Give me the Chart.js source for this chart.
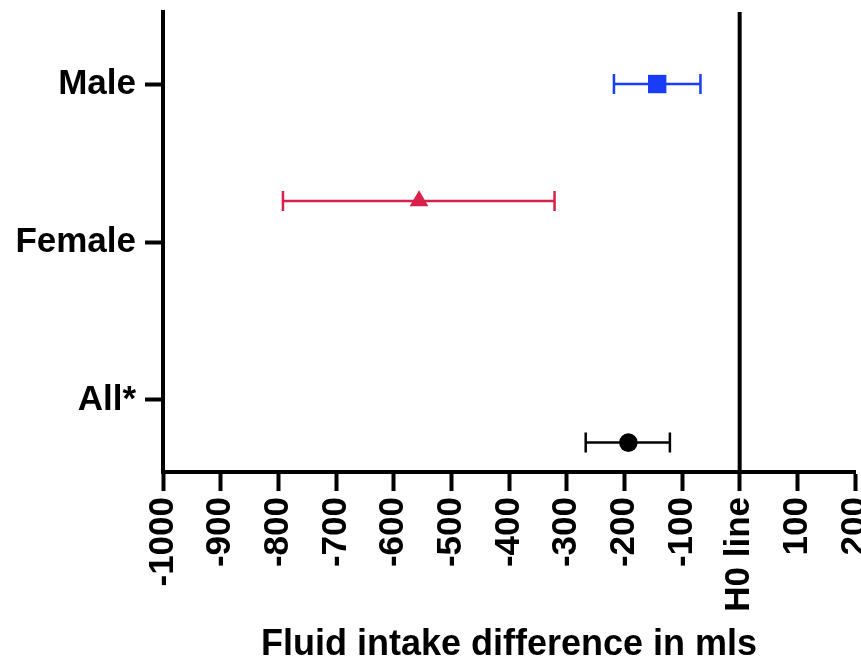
<!DOCTYPE html>
<html>
<head>
<meta charset="utf-8">
<script src="https://cdn.jsdelivr.net/npm/chart.js@4"></script>
<style>
  html,body{margin:0;padding:0;background:#fff;}
  #wrap{width:861px;height:667px;}
</style>
</head>
<body>
<div id="wrap"><canvas id="chart" width="861" height="667"></canvas></div>
<script>
// Data
const groupLabels=['All*','Female','Male'];
const groupTicks=[1,2,3];
const seriesNames=['Male','Female','All*'];
const means=[-143,-556,-193];
const lowerCI=[-218,-792,-267];
const upperCI=[-68,-321,-121];
const pointRows=[3,2.26,0.73];
const xTicksMin=-1000;
const xTicksMax=200;

const colors=['#1a3cf7','#d8204b','#000000'];
const styles=['rect','triangle','circle'];
const radii=[13,10.8,9.3];

const FONT="'Liberation Sans', Arial, Helvetica, sans-serif";

// error bars + H0 line drawn through the scales
const errorBars={
  id:'errorBars',
  beforeDatasetsDraw(chart){
    const ctx=chart.ctx;
    const x=chart.scales.x, y=chart.scales.y;
    ctx.save();
    seriesNames.forEach((n,i)=>{
      const py=y.getPixelForValue(pointRows[i]);
      const xl=x.getPixelForValue(lowerCI[i]);
      const xr=x.getPixelForValue(upperCI[i]);
      ctx.strokeStyle=colors[i];
      ctx.lineWidth=2.5;
      ctx.beginPath();
      ctx.moveTo(xl,py);ctx.lineTo(xr,py);
      ctx.moveTo(xl,py-10);ctx.lineTo(xl,py+10);
      ctx.moveTo(xr,py-10);ctx.lineTo(xr,py+10);
      ctx.stroke();
    });
    ctx.restore();
  },
  afterDatasetsDraw(chart){
    const ctx=chart.ctx;
    const x0=chart.scales.x.getPixelForValue(0);
    ctx.save();
    ctx.strokeStyle='#000';
    ctx.lineWidth=4;
    ctx.beginPath();
    ctx.moveTo(x0,chart.chartArea.top);
    ctx.lineTo(x0,chart.chartArea.bottom);
    ctx.stroke();
    ctx.restore();
  }
};

const datasets=seriesNames.map((n,i)=>({
  label:n,
  data:[{x:means[i],y:pointRows[i]}],
  pointStyle:styles[i],
  pointRadius:radii[i],
  pointHoverRadius:radii[i],
  backgroundColor:colors[i],
  borderColor:colors[i],
  borderWidth:0
}));

new Chart(document.getElementById('chart'),{
  type:'scatter',
  data:{datasets},
  options:{
    responsive:false,
    animation:false,
    layout:{autoPadding:false,padding:{top:12,right:6,left:0,bottom:0}},
    plugins:{legend:{display:false},tooltip:{enabled:false}},
    scales:{
      x:{
        type:'linear',
        min:xTicksMin,
        max:xTicksMax,
        afterFit(s){s.height=195;s.paddingLeft=0;s.paddingRight=0;},
        border:{display:true,color:'#000',width:4},
        grid:{drawOnChartArea:false,color:'#000',tickLength:19,tickWidth:4,tickColor:'#000'},
        ticks:{
          stepSize:100,
          minRotation:90,
          maxRotation:90,
          padding:6,
          color:'#000',
          font:{family:FONT,size:35,weight:'bold'},
          callback:v=>v===0?'H0 line':v
        },
        title:{
          display:true,
          text:'Fluid intake difference in mls',
          color:'#000',
          font:{family:FONT,size:36,weight:'bold'},
          padding:{top:0,bottom:0}
        }
      },
      y:{
        type:'linear',
        min:0.544,
        max:3.456,
        afterFit(s){s.width=163;s.paddingTop=0;s.paddingBottom=0;},
        afterBuildTicks(s){s.ticks=groupTicks.map(v=>({value:v}));},
        border:{display:true,color:'#000',width:4},
        grid:{drawOnChartArea:false,color:'#000',tickLength:18,tickWidth:4,tickColor:'#000'},
        ticks:{
          padding:9,
          color:'#000',
          font:{family:FONT,size:35,weight:'bold'},
          callback:v=>groupLabels[groupTicks.indexOf(v)]
        }
      }
    }
  },
  plugins:[errorBars]
});
</script>
</body>
</html>
